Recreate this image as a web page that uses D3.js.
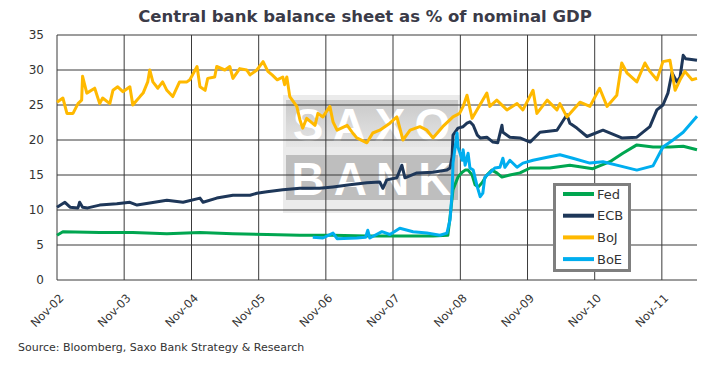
<!DOCTYPE html>
<html>
<head>
<meta charset="utf-8">
<script src="https://cdn.jsdelivr.net/npm/d3@7"></script>
<style>
  body { margin: 0; background: #fff; }
  svg { display: block; font-family: "DejaVu Sans", Verdana, sans-serif; }
</style>
</head>
<body>
<svg id="chart" width="720" height="365"></svg>
<script>
// values, % of nominal GDP
const seriesNames = ["Fed", "ECB", "BoJ", "BoE"];
const seriesColors = ["#00a650", "#1e3759", "#ffb900", "#00aeef"];
const yTicks = [0, 5, 10, 15, 20, 25, 30, 35];
const xTickDates = ["2002-11-01", "2003-11-01", "2004-11-01", "2005-11-01", "2006-11-01",
  "2007-11-01", "2008-11-01", "2009-11-01", "2010-11-01", "2011-11-01"];
const dateRange = ["2002-11-01", "2012-05-10"];

const fed = [
  ["2002-11-01", 6.4], ["2002-12-03", 6.9], ["2003-06-21", 6.8], ["2003-12-18", 6.8],
  ["2004-06-20", 6.6], ["2004-12-17", 6.8], ["2005-06-14", 6.6], ["2005-12-16", 6.5],
  ["2006-06-13", 6.4], ["2006-12-10", 6.4], ["2007-06-12", 6.3], ["2007-12-25", 6.3],
  ["2008-06-05", 6.3], ["2008-08-25", 6.4], ["2008-09-06", 9.0], ["2008-09-22", 12.9],
  ["2008-10-19", 14.7], ["2008-11-11", 15.4], ["2008-11-27", 15.7], ["2008-12-13", 15.7],
  ["2009-01-04", 15.0], ["2009-01-20", 13.6], ["2009-02-06", 13.3], ["2009-02-27", 13.9],
  ["2009-03-25", 15.0], ["2009-04-21", 15.7], ["2009-05-18", 15.3], ["2009-06-15", 14.7],
  ["2009-07-28", 15.0], ["2009-09-21", 15.3], ["2009-11-15", 16.0], ["2010-03-02", 16.0],
  ["2010-06-19", 16.4], ["2010-10-22", 15.9], ["2011-01-23", 16.9], ["2011-04-03", 18.1],
  ["2011-06-18", 19.3], ["2011-09-14", 19.0], ["2011-12-15", 19.0], ["2012-02-25", 19.1],
  ["2012-05-10", 18.6]
];

const ecb = [
  ["2002-11-01", 10.4], ["2002-12-14", 11.1], ["2003-01-11", 10.4], ["2003-02-23", 10.3],
  ["2003-03-04", 11.1], ["2003-03-20", 10.4], ["2003-04-17", 10.3], ["2003-06-21", 10.7],
  ["2003-09-22", 10.9], ["2003-12-02", 11.1], ["2004-01-10", 10.7], ["2004-03-19", 11.0],
  ["2004-06-20", 11.4], ["2004-09-16", 11.1], ["2004-12-17", 11.7], ["2005-01-03", 11.1],
  ["2005-03-18", 11.7], ["2005-06-14", 12.1], ["2005-09-15", 12.1], ["2005-10-22", 12.4],
  ["2005-12-16", 12.6], ["2006-03-12", 12.9], ["2006-06-13", 13.1], ["2006-09-28", 13.1],
  ["2006-12-10", 13.3], ["2007-03-11", 13.6], ["2007-06-12", 13.9], ["2007-08-21", 14.0],
  ["2007-09-07", 13.1], ["2007-09-28", 14.3], ["2007-11-22", 14.6], ["2007-12-19", 16.4],
  ["2008-01-05", 14.6], ["2008-03-10", 15.3], ["2008-06-05", 15.4], ["2008-08-20", 15.7],
  ["2008-09-06", 16.0], ["2008-09-17", 17.6], ["2008-09-22", 20.7], ["2008-10-19", 21.7],
  ["2008-11-16", 21.9], ["2008-12-07", 22.4], ["2008-12-23", 22.6], ["2009-01-10", 22.1],
  ["2009-02-01", 20.7], ["2009-02-17", 20.3], ["2009-03-25", 20.4], ["2009-04-27", 19.7],
  ["2009-05-23", 19.6], ["2009-06-15", 22.1], ["2009-06-20", 21.1], ["2009-07-28", 20.4],
  ["2009-09-21", 20.3], ["2009-11-15", 19.7], ["2010-01-08", 21.1], ["2010-04-10", 21.4],
  ["2010-06-03", 23.6], ["2010-06-19", 22.4], ["2010-07-27", 21.7], ["2010-09-20", 20.5],
  ["2010-12-16", 21.4], ["2011-03-28", 20.3], ["2011-06-18", 20.4], ["2011-08-28", 21.9],
  ["2011-10-05", 24.3], ["2011-11-07", 25.0], ["2011-12-04", 26.7], ["2011-12-26", 29.6],
  ["2012-01-22", 28.3], ["2012-02-08", 29.0], ["2012-02-25", 32.1], ["2012-03-10", 31.6],
  ["2012-05-10", 31.4]
];

const boj = [
  ["2002-11-01", 25.4], ["2002-12-03", 26.0], ["2002-12-25", 23.8], ["2003-01-27", 23.8],
  ["2003-02-23", 25.2], ["2003-03-15", 25.7], ["2003-03-20", 29.1], ["2003-04-12", 26.7],
  ["2003-05-25", 27.4], ["2003-06-21", 25.2], ["2003-07-07", 26.0], ["2003-08-15", 25.2],
  ["2003-09-01", 27.1], ["2003-09-27", 27.6], ["2003-10-25", 26.9], ["2003-12-02", 27.6],
  ["2003-12-18", 25.0], ["2004-01-10", 25.7], ["2004-01-26", 26.2], ["2004-02-12", 26.7],
  ["2004-03-08", 28.3], ["2004-03-19", 30.0], ["2004-04-05", 28.3], ["2004-05-02", 27.4],
  ["2004-05-28", 28.3], ["2004-06-20", 27.1], ["2004-07-22", 26.2], ["2004-08-28", 28.3],
  ["2004-10-07", 28.3], ["2004-10-23", 28.6], ["2004-12-01", 30.5], ["2004-12-17", 27.6],
  ["2005-01-14", 27.1], ["2005-01-28", 28.8], ["2005-03-07", 29.0], ["2005-03-18", 30.5],
  ["2005-05-01", 30.0], ["2005-05-28", 30.5], ["2005-06-14", 28.8], ["2005-07-21", 30.2],
  ["2005-08-28", 30.0], ["2005-09-15", 29.3], ["2005-10-22", 30.0], ["2005-11-25", 31.2],
  ["2005-12-21", 29.8], ["2006-01-13", 29.3], ["2006-02-10", 28.6], ["2006-03-12", 29.0],
  ["2006-03-22", 27.9], ["2006-04-03", 29.0], ["2006-04-19", 26.2], ["2006-05-27", 24.8],
  ["2006-06-13", 22.9], ["2006-06-28", 21.7], ["2006-07-20", 23.1], ["2006-09-03", 22.1],
  ["2006-09-19", 23.8], ["2006-10-16", 23.3], ["2006-11-23", 24.8], ["2006-12-10", 22.6],
  ["2007-01-01", 21.4], ["2007-02-25", 22.1], ["2007-03-27", 21.0], ["2007-04-18", 20.3],
  ["2007-06-12", 19.6], ["2007-07-14", 21.0], ["2007-08-21", 21.4], ["2007-10-15", 22.4],
  ["2007-11-22", 23.3], ["2007-12-25", 20.0], ["2008-02-02", 21.4], ["2008-03-26", 21.9],
  ["2008-05-03", 21.4], ["2008-06-05", 20.3], ["2008-07-28", 21.9], ["2008-09-22", 23.3],
  ["2008-10-28", 23.8], ["2008-11-16", 24.8], ["2008-12-07", 26.4], ["2009-01-04", 23.1],
  ["2009-03-25", 26.7], ["2009-04-10", 24.8], ["2009-05-18", 25.7], ["2009-07-12", 24.3],
  ["2009-09-05", 25.2], ["2009-10-07", 24.3], ["2009-12-01", 27.1], ["2009-12-22", 23.8],
  ["2010-02-16", 25.7], ["2010-04-10", 24.3], ["2010-04-26", 25.2], ["2010-06-03", 23.3],
  ["2010-08-13", 25.4], ["2010-10-06", 24.8], ["2010-11-28", 27.4], ["2011-01-07", 24.8],
  ["2011-03-01", 26.4], ["2011-03-28", 31.0], ["2011-04-25", 29.6], ["2011-06-18", 28.3],
  ["2011-08-01", 31.0], ["2011-08-28", 29.8], ["2011-10-05", 28.6], ["2011-11-07", 31.2],
  ["2011-12-15", 31.4], ["2012-01-12", 27.1], ["2012-02-08", 28.6], ["2012-03-05", 29.8],
  ["2012-04-13", 28.6], ["2012-05-10", 28.8]
];

const boe = [
  ["2006-08-22", 6.1], ["2006-10-16", 6.0], ["2006-12-10", 6.7], ["2007-01-01", 5.9],
  ["2007-04-18", 6.0], ["2007-06-05", 6.1], ["2007-06-17", 7.1], ["2007-06-28", 6.0],
  ["2007-09-02", 6.9], ["2007-10-15", 6.5], ["2007-12-08", 7.4], ["2008-02-18", 6.9],
  ["2008-05-03", 6.7], ["2008-07-13", 6.4], ["2008-08-20", 6.7], ["2008-09-06", 8.6],
  ["2008-09-17", 12.4], ["2008-09-22", 16.7], ["2008-10-14", 21.0], ["2008-10-19", 19.0],
  ["2008-10-28", 18.3], ["2008-11-11", 17.1], ["2008-11-16", 18.6], ["2008-11-27", 16.4],
  ["2008-12-13", 18.1], ["2008-12-23", 16.0], ["2009-01-10", 15.7], ["2009-02-01", 13.3],
  ["2009-02-17", 11.9], ["2009-03-03", 12.4], ["2009-03-14", 14.7], ["2009-04-10", 15.3],
  ["2009-05-07", 16.0], ["2009-06-04", 16.1], ["2009-06-20", 17.4], ["2009-07-01", 16.1],
  ["2009-07-28", 17.1], ["2009-09-05", 16.1], ["2009-10-07", 16.7], ["2009-12-01", 17.1],
  ["2010-03-02", 17.6], ["2010-04-26", 17.9], ["2010-07-05", 17.4], ["2010-10-06", 16.7],
  ["2010-12-16", 16.9], ["2011-03-17", 16.3], ["2011-06-18", 15.7], ["2011-09-14", 16.3],
  ["2011-11-07", 19.0], ["2012-01-01", 20.0], ["2012-02-25", 21.1], ["2012-05-10", 23.4]
];

const seriesData = [fed, ecb, boj, boe];

const parse = d3.timeParse("%Y-%m-%d");
const svg = d3.select("#chart");
const margin = { left: 57, right: 23, top: 35, bottom: 85 },
      width = 720 - margin.left - margin.right,
      height = 365 - margin.top - margin.bottom;

const x = d3.scaleTime().domain(dateRange.map(parse)).range([0, width]);
const y = d3.scaleLinear().domain([0, 35]).range([height, 0]);

svg.append("text")
  .attr("x", 365).attr("y", 22)
  .attr("text-anchor", "middle")
  .attr("font-size", 16.5).attr("font-weight", "bold")
  .attr("fill", "#3b3b48")
  .text("Central bank balance sheet as % of nominal GDP");

// watermark first, so grid and lines go on top
const defs = svg.append("defs");
const grad = defs.append("linearGradient").attr("id", "saxoTop")
  .attr("x1", 0).attr("y1", 0).attr("x2", 0).attr("y2", 1);
grad.append("stop").attr("offset", "0%").attr("stop-color", "#c9c9c9");
grad.append("stop").attr("offset", "100%").attr("stop-color", "#e6e6e6");

const wm = svg.append("g").attr("class", "watermark");
wm.append("rect").attr("x", 283).attr("y", 95).attr("width", 178).attr("height", 118)
  .attr("fill", "#ebebeb");
wm.append("rect").attr("x", 286).attr("y", 100).attr("width", 172).attr("height", 47)
  .attr("fill", "url(#saxoTop)");
wm.append("rect").attr("x", 286).attr("y", 155).attr("width", 172).attr("height", 45)
  .attr("fill", "#bebebe");
wm.selectAll("text").data([["SAXO", 141], ["BANK", 195]]).join("text")
  .attr("x", 376).attr("y", d => d[1])
  .attr("text-anchor", "middle")
  .attr("font-family", "Liberation Sans, Arial, sans-serif")
  .attr("font-size", 46).attr("font-weight", "bold")
  .attr("letter-spacing", 9)
  .attr("fill", "#fff")
  .text(d => d[0]);

const g = svg.append("g").attr("transform", `translate(${margin.left},${margin.top})`);

// grid
g.append("g").selectAll("line").data(yTicks).join("line")
  .attr("x1", 0).attr("x2", width)
  .attr("y1", d => y(d)).attr("y2", d => y(d))
  .attr("stroke", "#3a3a3a").attr("stroke-width", 1);

g.append("g").selectAll("line").data(xTickDates.map(parse)).join("line")
  .attr("x1", d => x(d)).attr("x2", d => x(d))
  .attr("y1", 0).attr("y2", height)
  .attr("stroke", "#3a3a3a").attr("stroke-width", 1);

// axes, labels only
const yAxis = g.append("g")
  .call(d3.axisLeft(y).tickValues(yTicks).tickSize(0).tickPadding(13));
yAxis.select(".domain").remove();
yAxis.selectAll("text").attr("font-size", 12).attr("fill", "#333")
  .attr("font-family", "DejaVu Sans, Verdana, sans-serif");

const xAxis = g.append("g").attr("transform", `translate(0,${height})`)
  .call(d3.axisBottom(x).tickValues(xTickDates.map(parse))
    .tickFormat(d3.timeFormat("%b-%y")).tickSize(0));
xAxis.select(".domain").remove();
xAxis.selectAll("text")
  .attr("font-size", 11.5).attr("fill", "#333")
  .attr("font-family", "DejaVu Sans, Verdana, sans-serif")
  .attr("text-anchor", "end")
  .attr("x", 0).attr("y", 0).attr("dx", 0).attr("dy", "0.35em")
  .attr("transform", "translate(4,16) rotate(-45)");

// series
const line = d3.line()
  .x(d => x(parse(d[0])))
  .y(d => y(d[1]));

g.append("g").selectAll("path").data(seriesData).join("path")
  .attr("d", line)
  .attr("fill", "none")
  .attr("stroke", (d, i) => seriesColors[i])
  .attr("stroke-width", 3)
  .attr("stroke-linejoin", "round");

// legend
const legend = svg.append("g").attr("transform", "translate(553,183)");
legend.append("rect").attr("x", 1.5).attr("y", 1.5).attr("width", 75).attr("height", 86)
  .attr("fill", "#fff").attr("stroke", "#7f7f7f").attr("stroke-width", 3);

const item = legend.selectAll(".item").data(seriesNames).join("g")
  .attr("class", "item")
  .attr("transform", (d, i) => `translate(0,${11 + i * 21.7})`);
item.append("line").attr("x1", 10).attr("x2", 41)
  .attr("stroke", (d, i) => seriesColors[i]).attr("stroke-width", 4);
item.append("text").attr("x", 44).attr("y", 0).attr("dy", "0.35em")
  .attr("font-size", 13).attr("fill", "#333")
  .text(d => d);

svg.append("text")
  .attr("x", 18).attr("y", 351)
  .attr("font-size", 11).attr("fill", "#333")
  .text("Source: Bloomberg, Saxo Bank Strategy & Research");
</script>
</body>
</html>
